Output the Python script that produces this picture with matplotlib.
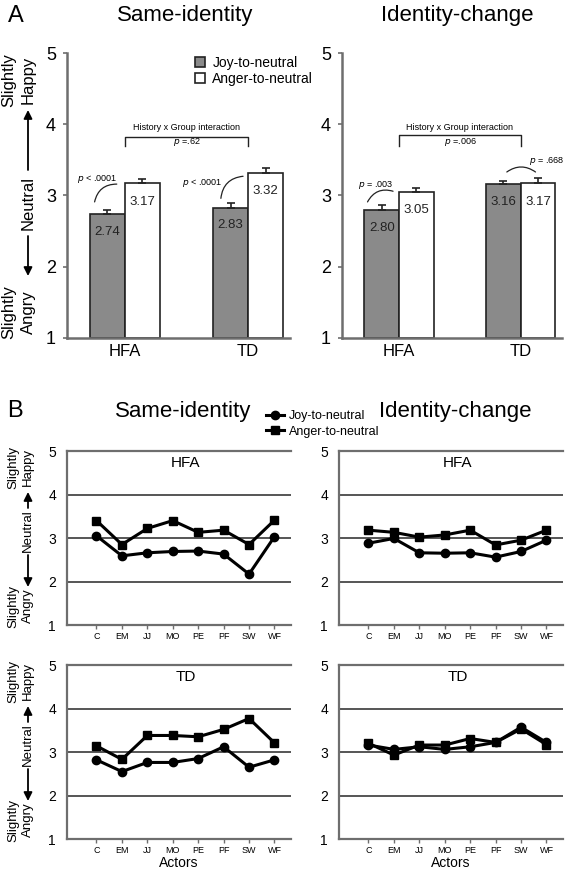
import matplotlib
matplotlib.use("Agg")
import matplotlib.pyplot as plt
import numpy as np

plt.rcParams['font.family'] = ['Liberation Sans', 'DejaVu Sans']

# ---- Panel A data ----
groups = ["HFA", "TD"]
same_joy = [2.74, 2.83]
same_anger = [3.17, 3.32]
same_joy_err = [0.06, 0.07]
same_anger_err = [0.06, 0.07]
same_pvals = ["p < .0001", "p < .0001"]
same_interaction = "p =.62"

change_joy = [2.80, 3.16]
change_anger = [3.05, 3.17]
change_joy_err = [0.07, 0.05]
change_anger_err = [0.05, 0.07]
change_pvals = ["p = .003", "p = .668"]
change_interaction = "p =.006"

# ---- Panel B data ----
actors = ["C", "EM", "JJ", "MO", "PE", "PF", "SW", "WF"]
same_hfa_joy = [3.05, 2.59, 2.66, 2.69, 2.70, 2.63, 2.17, 3.03]
same_hfa_anger = [3.40, 2.85, 3.22, 3.40, 3.13, 3.18, 2.85, 3.41]
change_hfa_joy = [2.88, 2.99, 2.66, 2.65, 2.66, 2.56, 2.69, 2.95]
change_hfa_anger = [3.18, 3.13, 3.02, 3.07, 3.18, 2.84, 2.95, 3.18]
same_td_joy = [2.82, 2.55, 2.76, 2.76, 2.85, 3.12, 2.65, 2.82]
same_td_anger = [3.14, 2.83, 3.38, 3.38, 3.35, 3.52, 3.77, 3.21]
change_td_joy = [3.16, 3.06, 3.12, 3.06, 3.12, 3.22, 3.57, 3.22]
change_td_anger = [3.20, 2.93, 3.16, 3.16, 3.31, 3.22, 3.53, 3.17]

W, H = 567, 871
JOY_COLOR = "#8a8a8a"
SPINE = "#6e6e6e"
GRID = "#555555"

fig = plt.figure(figsize=(W / 100, H / 100), dpi=100)
fig.patch.set_facecolor("white")


def px_axes(x0, y0, x1, y1):
    """Axes from pixel box (top-down y)."""
    return fig.add_axes([x0 / W, 1 - y1 / H, (x1 - x0) / W, (y1 - y0) / H])


def fx(x):
    return x / W


def fy(y):
    return 1 - y / H


def side_label(x1, x2, happy_c, neutral_c, angry_c, up, down, fontsize):
    """Rotated 'Slightly Angry <- Neutral -> Slightly Happy' label (pixel coords)."""
    for xx, word, yc in ((x1, "Slightly", happy_c), (x2, "Happy", happy_c),
                         (x1, "Slightly", angry_c), (x2, "Angry", angry_c),
                         (x2, "Neutral", neutral_c)):
        fig.text(fx(xx), fy(yc), word, rotation=90, ha="center", va="center",
                 fontsize=fontsize)
    for tail, head in (up, down):
        fig.add_artist(matplotlib.patches.FancyArrowPatch(
            (fx(x2), fy(tail)), (fx(x2), fy(head)), transform=fig.transFigure,
            arrowstyle="-|>,head_length=0.5,head_width=0.25", mutation_scale=10,
            lw=1.3, color="black", shrinkA=0, shrinkB=0))


def bar_panel(ax, joy, anger, joy_err, anger_err, pvals, interaction,
              arcs, ptexts, bracket_y):
    x = np.arange(len(groups))
    w = 0.285
    b1 = ax.bar(x - w / 2, [v - 1 for v in joy], w, bottom=1, color=JOY_COLOR,
                edgecolor="#222222", linewidth=1.2, label="Joy-to-neutral", zorder=2)
    b2 = ax.bar(x + w / 2, [v - 1 for v in anger], w, bottom=1, color="white",
                edgecolor="#222222", linewidth=1.2, label="Anger-to-neutral", zorder=2)
    ax.errorbar(x - w / 2, joy, yerr=[[0] * 2, joy_err], fmt="none",
                ecolor="#222222", elinewidth=1.2, capsize=3, capthick=1.2, zorder=3)
    ax.errorbar(x + w / 2, anger, yerr=[[0] * 2, anger_err], fmt="none",
                ecolor="#222222", elinewidth=1.2, capsize=3, capthick=1.2, zorder=3)
    for i in range(len(groups)):
        ax.text(x[i] - w / 2, joy[i] - 0.25, f"{joy[i]:.2f}", ha="center",
                va="center", fontsize=9.5, color="#222222", zorder=4)
        ax.text(x[i] + w / 2, anger[i] - 0.26, f"{anger[i]:.2f}", ha="center",
                va="center", fontsize=9.5, color="#222222", zorder=4)

    # interaction bracket
    top, leg = bracket_y
    ax.plot([x[0], x[0], x[1], x[1]], [leg, top, top, leg], color="#222222",
            lw=1.0, clip_on=False)
    ax.text(x.mean(), 3.95, "History x Group interaction", ha="center",
            va="center", fontsize=6.5)
    ax.text(x.mean(), 3.75, "$\\it{p}$" + interaction[1:], ha="center",
            va="center", fontsize=6.5)

    # simple effect arcs
    for (start, end, rad), (tx, ty), p in zip(arcs, ptexts, pvals):
        ax.annotate("", xy=end, xytext=start,
                    arrowprops=dict(arrowstyle="-", color="#222222", lw=0.9,
                                    connectionstyle=f"arc3,rad={rad}",
                                    shrinkA=0, shrinkB=0))
        ax.text(tx, ty, "$\\it{p}$" + p[1:], ha="center", va="center",
                fontsize=6.5, clip_on=False)

    ax.set_xlim(-0.47, 1.34)
    ax.set_ylim(1, 5)
    ax.set_yticks([1, 2, 3, 4, 5])
    ax.set_xticks(x)
    ax.set_xticklabels(groups, fontsize=12)
    ax.tick_params(axis="y", labelsize=13, length=3, width=1.2, color=SPINE, pad=5)
    ax.tick_params(axis="x", length=0, pad=4)
    for s in ("top", "right"):
        ax.spines[s].set_visible(False)
    for s in ("left", "bottom"):
        ax.spines[s].set_color(SPINE)
        ax.spines[s].set_linewidth(1.8)
    return b1, b2


# ---------------- Panel A ----------------
axA1 = px_axes(67, 53, 290, 338)
axA2 = px_axes(342, 53, 562, 338)

b1, b2 = bar_panel(
    axA1, same_joy, same_anger, same_joy_err, same_anger_err, same_pvals,
    same_interaction,
    arcs=[((-0.246, 2.91), (-0.066, 3.16), -0.4),
          ((0.779, 2.96), (0.959, 3.27), -0.4)],
    ptexts=[(-0.225, 3.23), (0.63, 3.17)],
    bracket_y=(3.82, 3.69))
bar_panel(
    axA2, change_joy, change_anger, change_joy_err, change_anger_err,
    change_pvals, change_interaction,
    arcs=[((-0.26, 2.91), (-0.05, 3.06), -0.4),
          ((0.886, 3.33), (1.122, 3.33), -0.35)],
    ptexts=[(-0.19, 3.15), (1.21, 3.48)],
    bracket_y=(3.85, 3.69))

axA1.legend([b1, b2], ["Joy-to-neutral", "Anger-to-neutral"], loc="upper left",
            bbox_to_anchor=(0.574, 0.99), frameon=False, fontsize=10,
            handlelength=0.75, handleheight=0.75, handletextpad=0.5,
            labelspacing=0.15, borderpad=0, borderaxespad=0)

fig.text(fx(16), fy(16), "A", ha="center", va="center", fontsize=17)
fig.text(fx(185), fy(16), "Same-identity", ha="center", va="center", fontsize=16)
fig.text(fx(457), fy(16), "Identity-change", ha="center", va="center", fontsize=16)
side_label(9, 28, 80, 203, 312, (170, 110), (236, 276), 12)

# ---------------- Panel B ----------------
line_sets = [
    (px_axes(67, 451, 291, 625), "HFA", same_hfa_joy, same_hfa_anger, False),
    (px_axes(339, 451, 563, 625), "HFA", change_hfa_joy, change_hfa_anger, False),
    (px_axes(67, 665, 291, 839), "TD", same_td_joy, same_td_anger, True),
    (px_axes(339, 665, 563, 839), "TD", change_td_joy, change_td_anger, True),
]
xi = np.arange(len(actors))
for ax, grp, joy, anger, bottom in line_sets:
    for yv in (2, 3, 4):
        ax.axhline(yv, color=GRID, lw=1.4, zorder=1)
    lj, = ax.plot(xi, joy, color="black", lw=2.2, marker="o", markersize=6,
                  label="Joy-to-neutral", zorder=3)
    la, = ax.plot(xi, anger, color="black", lw=2.2, marker="s", markersize=6,
                  label="Anger-to-neutral", zorder=3)
    ax.set_xlim(-1.16, 7.65)
    ax.set_ylim(1, 5)
    ax.set_yticks([1, 2, 3, 4, 5])
    ax.set_xticks(xi)
    ax.set_xticklabels(actors, fontsize=6.5)
    ax.tick_params(axis="y", labelsize=10, length=0, pad=8)
    ax.tick_params(axis="x", length=3, width=1, color=SPINE, pad=2)
    ax.text(3.5, 4.72, grp, ha="center", va="center", fontsize=11)
    ax.spines["right"].set_visible(False)
    for s in ("left", "bottom", "top"):
        ax.spines[s].set_color(SPINE)
        ax.spines[s].set_linewidth(1.6)
    if bottom:
        ax.set_xlabel("Actors", fontsize=10, labelpad=1)

fig.legend([lj, la], ["Joy-to-neutral", "Anger-to-neutral"], loc="upper left",
           bbox_to_anchor=(fx(266), fy(410)), frameon=False, fontsize=9,
           handlelength=1.4, handletextpad=0.4, labelspacing=0.3,
           borderpad=0, borderaxespad=0)

fig.text(fx(15), fy(411), "B", ha="center", va="center", fontsize=17)
fig.text(fx(183), fy(411), "Same-identity", ha="center", va="center", fontsize=16)
fig.text(fx(455), fy(411), "Identity-change", ha="center", va="center", fontsize=16)
for off in (0, 214):
    side_label(13, 28, 467 + off, 531 + off, 606 + off,
               (508 + off, 492 + off), (555 + off, 587 + off), 9.5)

fig.savefig("out.png", dpi=100, facecolor="white")
